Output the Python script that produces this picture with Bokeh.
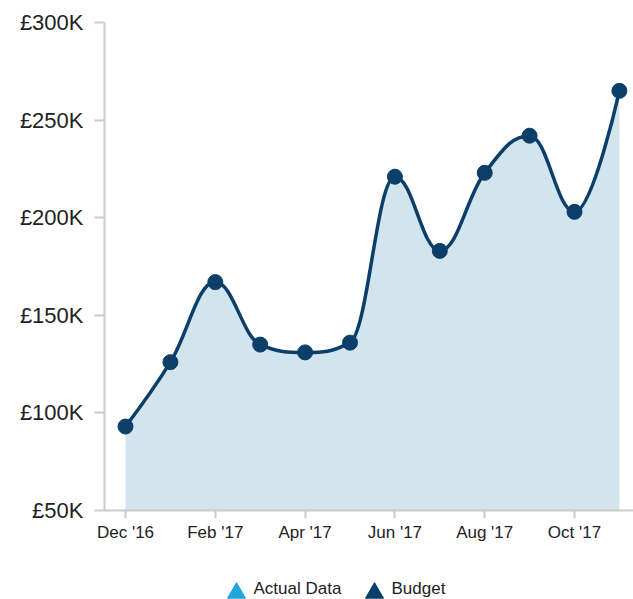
import numpy as np
from bokeh.plotting import figure
from bokeh.models import FixedTicker, Range1d
from bokeh.layouts import column
from bokeh.core.properties import value
from bokeh.embed import file_html
from bokeh.resources import INLINE

# ---- data ----
months = ["Dec '16", "Jan '17", "Feb '17", "Mar '17", "Apr '17", "May '17",
          "Jun '17", "Jul '17", "Aug '17", "Sep '17", "Oct '17", "Nov '17"]
budget = [93000, 126000, 167000, 135000, 131000, 136000,
          221000, 183000, 223000, 242000, 203000, 265000]
x_tick_positions = [0, 2, 4, 6, 8, 10]
x_tick_labels = ["Dec '16", "Feb '17", "Apr '17", "Jun '17", "Aug '17", "Oct '17"]
y_ticks = [50000, 100000, 150000, 200000, 250000, 300000]
y_tick_labels = ["£50K", "£100K", "£150K", "£200K", "£250K", "£300K"]
series_names = ["Actual Data", "Budget"]

LINE = "#0b3e69"
FILL = "#d2e4ed"
LIGHT = "#1ea5dc"
TEXT = "#222222"
AXIS = "#cccccc"
FONT = "Liberation Sans"

xs = list(range(len(months)))
ys = budget


def spline_controls(xv, yv, smoothing=1.5):
    n = len(xv)
    denom = smoothing + 1
    left = [None] * n
    right = [None] * n
    left[0] = right[0] = (xv[0], yv[0])
    left[-1] = right[-1] = (xv[-1], yv[-1])
    for i in range(1, n - 1):
        x, y = xv[i], yv[i]
        lx, ly = xv[i - 1], yv[i - 1]
        nx, ny = xv[i + 1], yv[i + 1]
        lcx = (smoothing * x + lx) / denom
        lcy = (smoothing * y + ly) / denom
        rcx = (smoothing * x + nx) / denom
        rcy = (smoothing * y + ny) / denom
        if rcx != lcx:
            corr = ((rcy - lcy) * (rcx - x)) / (rcx - lcx) + y - rcy
            lcy += corr
            rcy += corr
        if lcy > ly and lcy > y:
            lcy = max(ly, y); rcy = 2 * y - lcy
        elif lcy < ly and lcy < y:
            lcy = min(ly, y); rcy = 2 * y - lcy
        if rcy > ny and rcy > y:
            rcy = max(ny, y); lcy = 2 * y - rcy
        elif rcy < ny and rcy < y:
            rcy = min(ny, y); lcy = 2 * y - rcy
        left[i] = (lcx, lcy)
        right[i] = (rcx, rcy)
    return left, right


left, right = spline_controls(xs, ys)
x0 = xs[:-1]; y0 = ys[:-1]; x1 = xs[1:]; y1 = ys[1:]
cx0 = [right[i][0] for i in range(len(xs) - 1)]
cy0 = [right[i][1] for i in range(len(xs) - 1)]
cx1 = [left[i + 1][0] for i in range(len(xs) - 1)]
cy1 = [left[i + 1][1] for i in range(len(xs) - 1)]

# sample the spline geometry for the area fill
ax, ay = [], []
t = np.linspace(0, 1, 40)
for i in range(len(x0)):
    bx = ((1 - t) ** 3) * x0[i] + 3 * ((1 - t) ** 2) * t * cx0[i] + 3 * (1 - t) * t ** 2 * cx1[i] + t ** 3 * x1[i]
    by = ((1 - t) ** 3) * y0[i] + 3 * ((1 - t) ** 2) * t * cy0[i] + 3 * (1 - t) * t ** 2 * cy1[i] + t ** 3 * y1[i]
    if i > 0:
        bx, by = bx[1:], by[1:]
    ax.extend(bx.tolist()); ay.extend(by.tolist())

p = figure(width=633, height=546, output_backend="svg", toolbar_location=None,
           x_range=Range1d(-0.468, 11.314), y_range=Range1d(y_ticks[0], y_ticks[-1]),
           min_border_left=104, min_border_top=22, min_border_bottom=36, min_border_right=0)
p.outline_line_color = None
p.xgrid.visible = False
p.ygrid.visible = False
p.background_fill_color = "white"
p.border_fill_color = "white"

p.varea(x=ax, y1=[y_ticks[0]] * len(ax), y2=ay, fill_color=FILL, fill_alpha=1.0)
p.bezier(x0=x0, y0=y0, x1=x1, y1=y1, cx0=cx0, cy0=cy0, cx1=cx1, cy1=cy1,
         line_color=LINE, line_width=3.5)
p.scatter(xs, ys, size=15, marker="circle", fill_color=LINE, line_color=LINE)

# axes
p.xaxis.ticker = FixedTicker(ticks=x_tick_positions)
p.xaxis.major_label_overrides = {k: v for k, v in zip(x_tick_positions, x_tick_labels)}
p.yaxis.ticker = FixedTicker(ticks=y_ticks)
p.yaxis.major_label_overrides = {k: v for k, v in zip(y_ticks, y_tick_labels)}
for ax_ in (p.xaxis, p.yaxis):
    ax_.axis_line_color = AXIS
    ax_.axis_line_width = 2
    ax_.major_tick_line_color = AXIS
    ax_.major_tick_line_width = 2
    ax_.major_tick_in = 0
    ax_.minor_tick_line_color = None
    ax_.major_label_text_font = FONT
    ax_.major_label_text_color = TEXT
p.xaxis.major_tick_out = 8
p.xaxis.major_label_standoff = 4
p.xaxis.major_label_text_font_size = "17px"
p.yaxis.major_tick_out = 10
p.yaxis.major_label_standoff = 11
p.yaxis.major_label_text_font_size = "22px"

# ---- legend strip (separate figure, pixel coordinates; frame aligned with main plot) ----
lg = figure(width=633, height=53, output_backend="svg", toolbar_location=None,
            x_range=Range1d(104, 633), y_range=Range1d(53, 0),
            min_border_left=104, min_border_right=0, min_border_top=0, min_border_bottom=0)
lg.axis.visible = False
lg.grid.visible = False
lg.outline_line_color = None
lg.background_fill_color = "white"
lg.border_fill_color = "white"
legend_marker_x = [236, 374]
legend_text_x = [253, 391]
legend_colors = [LIGHT, LINE]
lg.scatter(legend_marker_x, [46.5, 46.5], marker="triangle", size=18,
           fill_color=legend_colors, line_color=legend_colors)
lg.text(legend_text_x, [42.0, 42.0], text=series_names, text_font=value(FONT),
        text_font_size="17px", text_color=TEXT, text_align="left", text_baseline="middle")

open("out.html", "w").write(file_html(column(p, lg, spacing=0), INLINE))
